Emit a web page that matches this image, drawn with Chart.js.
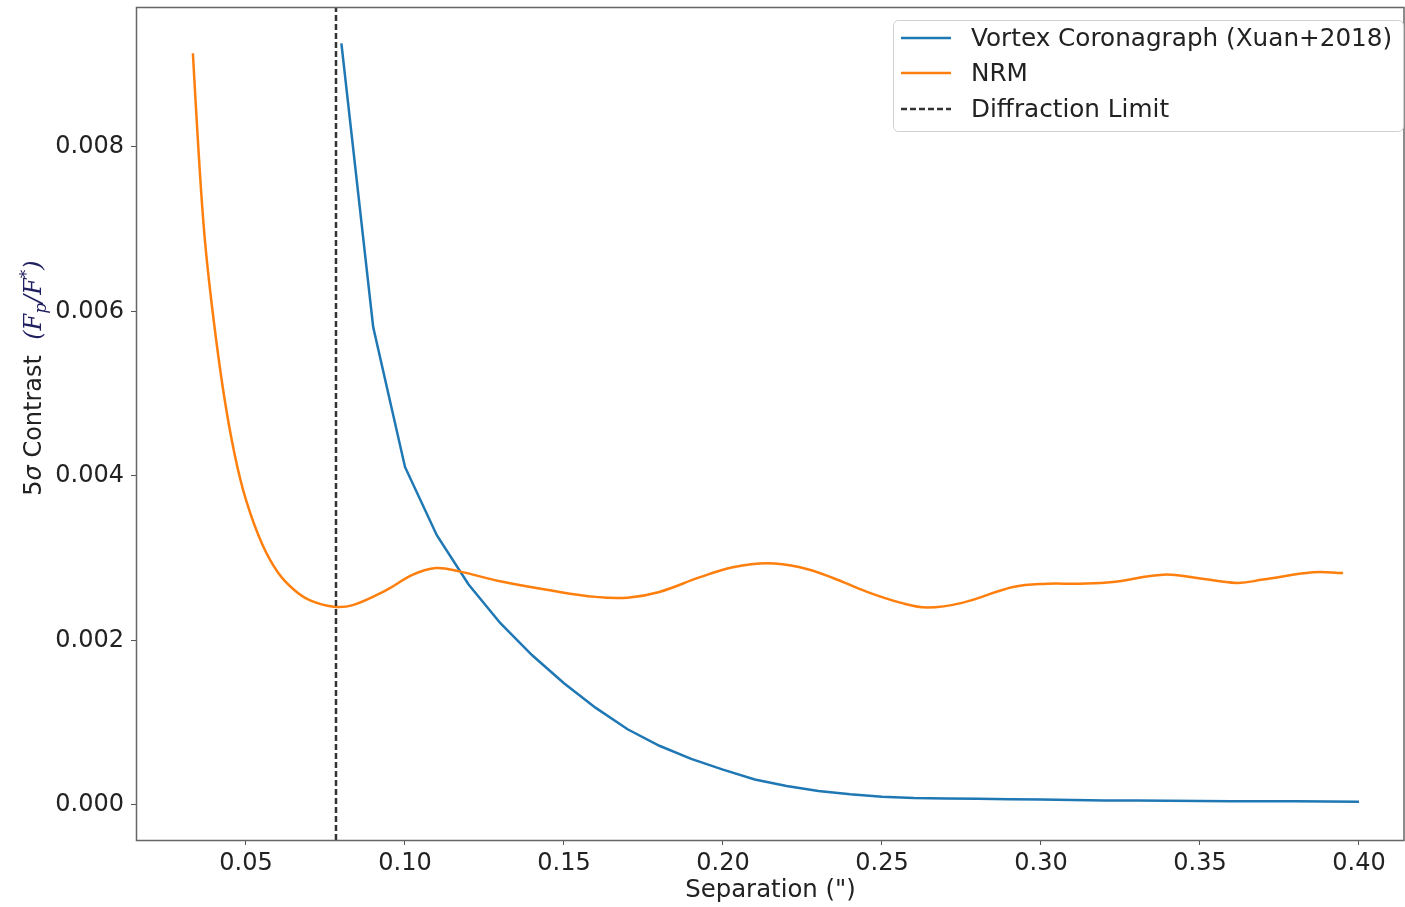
<!DOCTYPE html>
<html>
<head>
<meta charset="utf-8">
<script src="https://cdn.jsdelivr.net/npm/chart.js@4"></script>
<style>
  html, body { margin: 0; padding: 0; background: #fff; }
  canvas { display: block; }
</style>
</head>
<body>
<canvas id="contrastChart" width="1405" height="907"></canvas>
<script>
// Vortex coronagraph curve (Xuan+2018)
const vortexSep = [0.08, 0.09, 0.10, 0.11, 0.12, 0.13, 0.14, 0.15, 0.16, 0.17, 0.18, 0.19, 0.20,
    0.21, 0.22, 0.23, 0.24, 0.25, 0.26, 0.27, 0.28, 0.29, 0.30, 0.31, 0.32, 0.33, 0.34, 0.35,
    0.36, 0.37, 0.38, 0.39, 0.40];
const vortexContrast = [0.00926, 0.00581, 0.00411, 0.00328, 0.00268, 0.00221, 0.00182, 0.00148,
    0.00118, 0.00092, 0.00072, 0.00056, 0.00043, 0.00031, 0.00023, 0.00017, 0.00013, 0.00010,
    0.000085, 0.00008, 0.000075, 0.00007, 0.000065, 0.00006, 0.000055, 0.000053, 0.00005,
    0.000048, 0.000046, 0.000045, 0.000044, 0.000042, 0.00004];

// NRM curve
const nrmSep = [0.0333, 0.0350, 0.0370, 0.0395, 0.0430, 0.0465, 0.0500, 0.0550, 0.0600, 0.0650,
    0.0700, 0.0775, 0.0836, 0.0940, 0.1025, 0.1097, 0.1170, 0.1299, 0.1456, 0.1600, 0.1700,
    0.1800, 0.1928, 0.2031, 0.2138, 0.2242, 0.2346, 0.2453, 0.2557, 0.2642, 0.2755, 0.2912,
    0.3019, 0.3123, 0.3226, 0.3384, 0.3491, 0.3616, 0.3698, 0.3855, 0.3950];
const nrmContrast = [0.00914, 0.00800, 0.00690, 0.00600, 0.00500, 0.00425, 0.00371, 0.00318,
    0.00283, 0.00262, 0.00249, 0.00241, 0.00243, 0.00261, 0.00280, 0.00288, 0.00284, 0.00272,
    0.00261, 0.00253, 0.00252, 0.00259, 0.00277, 0.00289, 0.00294, 0.00289, 0.00276, 0.00259,
    0.00246, 0.00240, 0.00246, 0.00265, 0.00269, 0.00269, 0.00271, 0.00280, 0.00276, 0.00270,
    0.00274, 0.00283, 0.00282];

// diffraction limit (arcsec)
const diffLimit = 0.0783;

// axis ranges and ticks
const xMin = 0.01541, xMax = 0.41447;
const yMin = -0.000426, yMax = 0.009702;
const xTicks = [0.05, 0.10, 0.15, 0.20, 0.25, 0.30, 0.35, 0.40];
const yTicks = [0.000, 0.002, 0.004, 0.006, 0.008];

const labels = ['Vortex Coronagraph (Xuan+2018)', 'NRM', 'Diffraction Limit'];

const SANS = "'DejaVu Sans', sans-serif";
const SERIF = "'DejaVu Serif', serif";

function toPoints(xs, ys) {
    return xs.map((x, i) => ({ x: x, y: ys[i] }));
}

// frame, y title and legend drawn by hand
const extrasPlugin = {
    id: 'extras',
    afterDraw(chart) {
        const ctx = chart.ctx;
        const area = chart.chartArea;

        // frame
        ctx.save();
        ctx.strokeStyle = '#666';
        ctx.lineWidth = 1.5;
        ctx.strokeRect(area.left + 0.5, area.top + 0.5, area.right - area.left - 1.5, area.bottom - area.top);
        ctx.restore();

        // y axis title: "5σ Contrast (F_p/F^*)"
        const math = '#1f1f5f';
        const parts = [
            { t: '5', font: '24px ' + SANS, color: '#222', dy: 0 },
            { t: 'σ', font: 'italic 24px ' + SANS, color: '#222', dy: 0 },
            { t: ' Contrast  ', font: '24px ' + SANS, color: '#222', dy: 0 },
            { t: '(', font: 'italic 24px ' + SERIF, color: math, dy: 0 },
            { t: 'F', font: 'italic 24px ' + SERIF, color: math, dy: 0 },
            { t: 'p', font: 'italic 17px ' + SERIF, color: math, dy: 5 },
            { t: '/', font: 'italic 24px ' + SERIF, color: math, dy: 0 },
            { t: 'F', font: 'italic 24px ' + SERIF, color: math, dy: 0 },
            { t: '*', font: 'italic 17px ' + SERIF, color: math, dy: -9 },
            { t: ')', font: 'italic 24px ' + SERIF, color: math, dy: 0 }
        ];
        ctx.save();
        let total = 0;
        parts.forEach(p => { ctx.font = p.font; p.w = ctx.measureText(p.t).width; total += p.w; });
        ctx.translate(41, 378);
        ctx.rotate(-Math.PI / 2);
        ctx.textBaseline = 'alphabetic';
        ctx.textAlign = 'left';
        let cx = -total / 2;
        parts.forEach(p => {
            ctx.font = p.font;
            ctx.fillStyle = p.color;
            ctx.fillText(p.t, cx, p.dy);
            cx += p.w;
        });
        ctx.restore();

        // legend box
        ctx.save();
        ctx.beginPath();
        ctx.roundRect(893.5, 20.5, 510, 111, 5);
        ctx.fillStyle = 'rgba(255,255,255,0.8)';
        ctx.fill();
        ctx.strokeStyle = '#d0d0d0';
        ctx.lineWidth = 1;
        ctx.stroke();
        const rows = [38, 73, 109];
        chart.data.datasets.forEach((ds, i) => {
            ctx.beginPath();
            ctx.setLineDash(ds.borderDash || []);
            ctx.strokeStyle = ds.borderColor;
            ctx.lineWidth = ds.borderWidth;
            ctx.moveTo(901, rows[i]);
            ctx.lineTo(951, rows[i]);
            ctx.stroke();
            ctx.setLineDash([]);
            ctx.font = '24.7px ' + SANS;
            ctx.fillStyle = '#222';
            ctx.textBaseline = 'middle';
            ctx.fillText(ds.label, 971, rows[i] + 2);
        });
        ctx.restore();
    }
};

const ctx = document.getElementById('contrastChart').getContext('2d');
new Chart(ctx, {
    type: 'line',
    data: {
        datasets: [
            {
                label: labels[0],
                data: toPoints(vortexSep, vortexContrast),
                borderColor: '#1f77b4',
                borderWidth: 2.5,
                pointRadius: 0,
                tension: 0,
                fill: false,
                order: 2
            },
            {
                label: labels[1],
                data: toPoints(nrmSep, nrmContrast),
                borderColor: '#ff7f0e',
                borderWidth: 2.5,
                pointRadius: 0,
                tension: 0.4,
                fill: false,
                order: 1
            },
            {
                label: labels[2],
                data: [{ x: diffLimit, y: yMin }, { x: diffLimit, y: yMax }],
                borderColor: 'rgba(0,0,0,0.8)',
                borderWidth: 2.5,
                borderDash: [6, 3],
                pointRadius: 0,
                tension: 0,
                fill: false,
                order: 0
            }
        ]
    },
    options: {
        responsive: false,
        animation: false,
        devicePixelRatio: 1,
        layout: { padding: { top: 7, right: 0, left: 0, bottom: 0 } },
        plugins: {
            legend: { display: false },
            tooltip: { enabled: false }
        },
        scales: {
            x: {
                type: 'linear',
                position: 'bottom',
                min: xMin,
                max: xMax,
                afterBuildTicks: scale => { scale.ticks = xTicks.map(v => ({ value: v })); },
                afterFit: scale => { scale.height = 67; scale.paddingLeft = 0; scale.paddingRight = 0; },
                border: { display: false },
                grid: { drawOnChartArea: false, drawTicks: true, tickLength: 5, color: '#555' },
                ticks: {
                    font: { family: SANS, size: 24 },
                    color: '#222',
                    padding: 4,
                    maxRotation: 0,
                    callback: v => v.toFixed(2)
                },
                title: {
                    display: true,
                    text: 'Separation (")',
                    font: { family: SANS, size: 24.4 },
                    color: '#222',
                    padding: { top: 0, bottom: 2 }
                }
            },
            y: {
                type: 'linear',
                min: yMin,
                max: yMax,
                afterBuildTicks: scale => { scale.ticks = yTicks.map(v => ({ value: v })); },
                afterFit: scale => { scale.width = 136; scale.paddingTop = 0; scale.paddingBottom = 0; },
                border: { display: false },
                grid: { drawOnChartArea: false, drawTicks: true, tickLength: 5, color: '#555' },
                ticks: {
                    font: { family: SANS, size: 24 },
                    color: '#222',
                    padding: 7,
                    callback: v => v.toFixed(3)
                }
            }
        }
    },
    plugins: [extrasPlugin]
});
</script>
</body>
</html>
